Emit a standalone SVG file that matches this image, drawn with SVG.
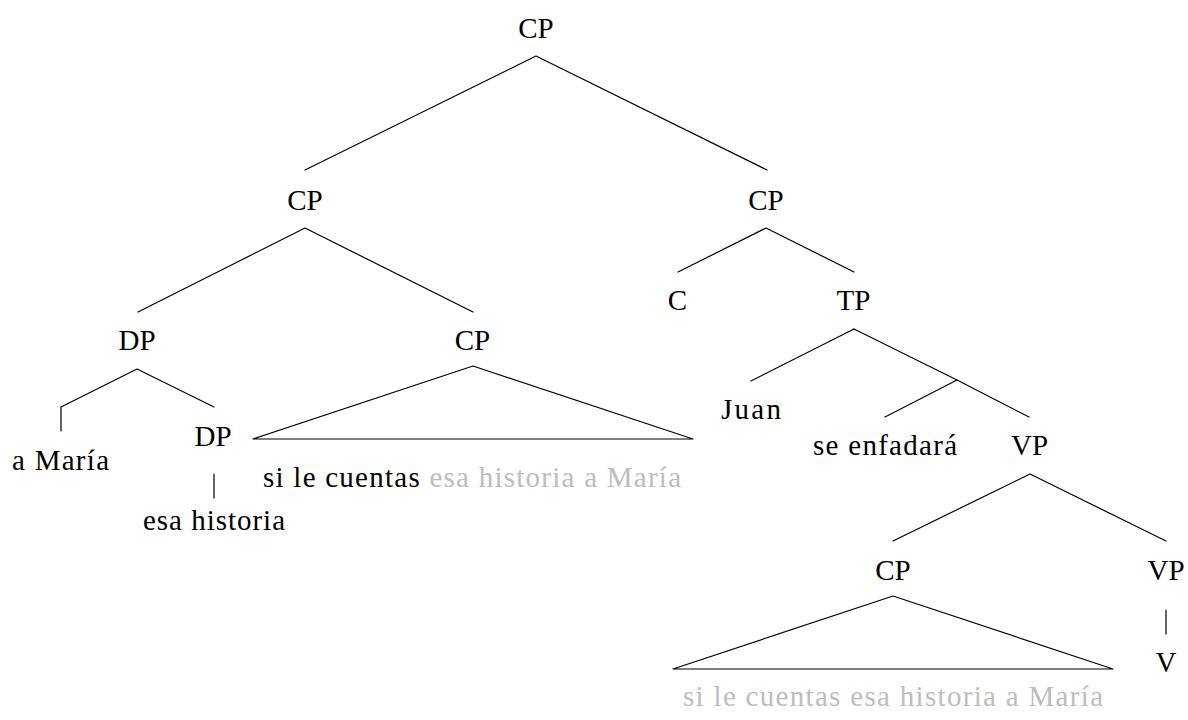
<svg xmlns="http://www.w3.org/2000/svg" width="1188" height="720" viewBox="0 0 1188 720">
<style>
  text { font-size: 29px; fill: #000; }
  .c { text-anchor: middle; }
  .g { fill: #bdbdbd; }
  .edge { stroke: #000; stroke-width: 1.2; fill: none; stroke-linecap: round; stroke-linejoin: round; }
</style>
<rect width="1188" height="720" fill="#fff"/>
<g id="connectors">
  <polyline class="edge" points="305,170 536,56 767,170"/>
  <polyline class="edge" points="138,312 305,228 473,312"/>
  <polyline class="edge" points="678,272 766,228 854,272"/>
  <polyline class="edge" points="61,431 61,407 137,369 214,407"/>
  <line class="edge" x1="214" y1="474" x2="214" y2="498"/>
  <polygon class="edge" points="473,366 253,439 693,439"/>
  <line class="edge" x1="751" y1="381" x2="854" y2="329"/>
  <polyline class="edge" points="854,329 957,380 1029,417"/>
  <line class="edge" x1="957" y1="380" x2="885" y2="417"/>
  <polyline class="edge" points="893,541 1030,474 1166,541"/>
  <polygon class="edge" points="893,596 673,669 1113,669"/>
  <line class="edge" x1="1166" y1="610" x2="1166" y2="634"/>
</g>
<g font-family="Liberation Serif, serif">
<g id="n-cp-root"><text class="c" x="536" y="38">CP</text></g>
<g id="n-cp-left"><text class="c" x="305" y="210">CP</text></g>
<g id="n-cp-right"><text class="c" x="766" y="210">CP</text></g>
<g id="n-c"><text class="c" x="677.5" y="310">C</text></g>
<g id="n-tp"><text class="c" x="853.5" y="310">TP</text></g>
<g id="n-dp"><text class="c" x="137" y="350">DP</text></g>
<g id="n-cp-mid"><text class="c" x="472.5" y="350">CP</text></g>
<g id="n-amaria"><text x="12" y="470" textLength="97" lengthAdjust="spacing">a María</text></g>
<g id="n-dp-low"><text class="c" x="213" y="446">DP</text></g>
<g id="n-esahistoria"><text x="143" y="530" textLength="142" lengthAdjust="spacing">esa historia</text></g>
<g id="n-cp-mid-text"><text x="263" y="487" textLength="418" lengthAdjust="spacing">si le cuentas <tspan class="g">esa historia a María</tspan></text></g>
<g id="n-juan"><text x="721" y="419" textLength="60" lengthAdjust="spacing">Juan</text></g>
<g id="n-seenfadara"><text x="813" y="455" textLength="144" lengthAdjust="spacing">se enfadará</text></g>
<g id="n-vp"><text class="c" x="1029.5" y="455">VP</text></g>
<g id="n-cp-low"><text class="c" x="893" y="580">CP</text></g>
<g id="n-vp-right"><text class="c" x="1166" y="580">VP</text></g>
<g id="n-v"><text class="c" x="1166" y="672">V</text></g>
<g id="n-cp-low-text"><text class="g" x="683" y="706" textLength="420" lengthAdjust="spacing">si le cuentas esa historia a María</text></g>
</g>
</svg>
